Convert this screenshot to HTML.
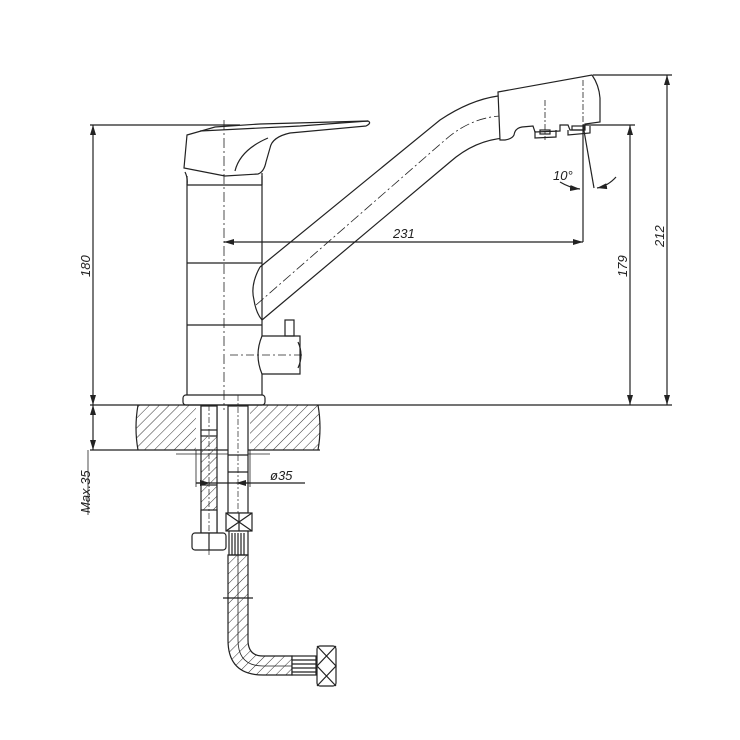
<!DOCTYPE html>
<html><head><meta charset="utf-8"><style>
html,body{margin:0;padding:0;background:#fff;}
svg{display:block}
text{font-family:"Liberation Sans",sans-serif;font-style:italic;font-size:13px;fill:#222}
</style></head><body>
<svg width="740" height="740" viewBox="0 0 740 740" xmlns="http://www.w3.org/2000/svg">
<defs>
<pattern id="h" width="7" height="7" patternUnits="userSpaceOnUse" patternTransform="rotate(45)">
<line x1="0" y1="0" x2="0" y2="7" stroke="#333" stroke-width="1"/>
</pattern>
<marker id="a" markerWidth="10" markerHeight="6" refX="10" refY="3" orient="auto-start-reverse" markerUnits="userSpaceOnUse">
<path d="M0,0 L10,3 L0,6 z" fill="#222"/></marker>
</defs>
<g fill="none" stroke="#222" stroke-width="1.2">
<!-- counter -->
<path d="M138,405 L318,405 Q322,428 318,450 L138,450 Q134,428 138,405 z" fill="url(#h)" stroke="none"/>
<rect x="196" y="405" width="54" height="46" fill="#fff" stroke="none"/>
<line x1="90" y1="405" x2="672" y2="405"/>
<line x1="90" y1="450" x2="320" y2="450"/>
<path d="M138,405 Q134,428 138,450 M318,405 Q322,428 318,450"/>
<line x1="176" y1="454" x2="270" y2="454" stroke-width="0.8"/>
<!-- left dims -->
<line x1="93" y1="125" x2="93" y2="405" marker-start="url(#a)" marker-end="url(#a)"/>
<line x1="90" y1="125" x2="240" y2="125"/>
<line x1="93" y1="405" x2="93" y2="450" marker-start="url(#a)" marker-end="url(#a)"/>
<!-- body -->
<path d="M187,176 L187,395 M262,176 L262,395"/>
<path d="M187,185 L262,185 M187,263 L262,263 M187,325 L262,325"/>
<path d="M185,172 Q188,178 187,185 M262,173 L262,185"/>
<rect x="183" y="395" width="82" height="10" rx="3"/>
<!-- handle -->
<path d="M187,135 L215,127 L260,124 L368,121 Q372,123 366,126 L290,133 Q272,137 270,148 L266,162 Q264,172 258,174 L225,176 L184,168 z" fill="#fff"/>
<path d="M200,131 L300,126 L368,121"/>
<path d="M235,171 Q240,150 268,138" />
<!-- center axis -->
<line x1="224" y1="120" x2="224" y2="410" stroke-width="0.8" stroke-dasharray="10,3,2,3"/>
<!-- spout -->
<path d="M260,267 L440,120 Q470,100 498,96"/>
<path d="M262,320 L450,162 Q475,140 505,138"/>
<path d="M260,267 Q250,285 254,300 Q256,313 262,320"/>
<path d="M256,305 L445,140 Q470,118 500,116 L600,104" stroke-width="0.8" stroke-dasharray="10,3,2,3"/>
<!-- head -->
<path d="M498,92 L592,75 Q599,85 600,98 L600,122 L585,124 L585,130 L570,130 L568,125 L560,125 L560,131 L535,132 L533,126 L522,127 Q515,128 514,135 Q512,139 505,140 L500,140 z" fill="#fff"/>
<path d="M535,131 L535,138 L556,137 L556,130 M568,130 L568,135 L590,133 L590,126"/>
<rect x="540" y="130" width="10" height="4"/><rect x="572" y="126" width="12" height="4"/>
<line x1="545" y1="100" x2="545" y2="140" stroke-width="0.8" stroke-dasharray="6,2,2,2"/>
<line x1="583" y1="80" x2="583" y2="125" stroke-width="0.8" stroke-dasharray="6,2,2,2"/>
<!-- spout dims -->
<line x1="583" y1="125" x2="583" y2="242"/>
<line x1="583" y1="125" x2="594" y2="188"/>
<path d="M560,182 Q570,188 580,189" marker-end="url(#a)"/>
<path d="M616,177 Q608,186 597,188" marker-end="url(#a)"/>
<line x1="224" y1="242" x2="583" y2="242" marker-start="url(#a)" marker-end="url(#a)"/>
<line x1="583" y1="125" x2="635" y2="125"/>
<line x1="630" y1="125" x2="630" y2="405" marker-start="url(#a)" marker-end="url(#a)"/>
<line x1="593" y1="75" x2="672" y2="75"/>
<line x1="667" y1="75" x2="667" y2="405" marker-start="url(#a)" marker-end="url(#a)"/>
<!-- side valve -->
<path d="M262,336 L300,336 L300,374 L262,374 Q254,355 262,336 z" fill="#fff"/>
<rect x="285" y="320" width="9" height="16"/>
<path d="M298,342 Q304,355 298,368"/>
<line x1="230" y1="355" x2="305" y2="355" stroke-width="0.8" stroke-dasharray="8,3,2,3"/>
<!-- left hose -->
<rect x="201" y="406" width="16" height="127" fill="url(#h)"/>
<rect x="201" y="406" width="16" height="30" fill="#fff"/>
<rect x="201" y="510" width="16" height="23" fill="#fff"/>
<line x1="201" y1="430" x2="217" y2="430"/><line x1="201" y1="485" x2="217" y2="485"/>
<rect x="192" y="533" width="34" height="17" rx="3" fill="#fff"/>
<line x1="209" y1="533" x2="209" y2="550"/>
<line x1="209" y1="405" x2="209" y2="555" stroke-width="0.7" stroke-dasharray="6,2,2,2"/>
<!-- right pipe -->
<rect x="228" y="406" width="20" height="107" fill="#fff"/>
<line x1="228" y1="455" x2="248" y2="455"/><line x1="228" y1="472" x2="248" y2="472"/>
<line x1="238" y1="395" x2="238" y2="560" stroke-width="0.7" stroke-dasharray="6,2,2,2"/>
<rect x="226" y="513" width="26" height="18" fill="#fff"/>
<path d="M226,513 L252,531 M252,513 L226,531 M239,513 L239,531"/>
<rect x="229" y="531" width="19" height="24" fill="#fff"/>
<path d="M232,533 V555 M235,533 V555 M238,533 V555 M241,533 V555 M244,533 V555"/>
<!-- flexible hose -->
<path d="M228,555 L228,640 Q228,675 263,675 L292,675 L292,656 L263,656 Q248,656 248,640 L248,555 z" fill="url(#h)"/>
<path d="M238,555 L238,640 Q238,666 263,666 L292,666" stroke-width="0.8"/>
<line x1="223" y1="598" x2="253" y2="598"/>
<rect x="292" y="656" width="24" height="19" fill="#fff"/>
<path d="M292,660 H316 M292,664 H316 M292,668 H316 M292,672 H316"/>
<rect x="317" y="646" width="19" height="40" rx="3" fill="#fff"/>
<path d="M317,646 L336,666 L317,686 M336,646 L317,666 L336,686"/>
<!-- dia 35 -->
<line x1="196" y1="483" x2="305" y2="483"/>
<line x1="196" y1="483" x2="210" y2="483" marker-end="url(#a)"/>
<line x1="250" y1="483" x2="236" y2="483" marker-end="url(#a)"/>
<line x1="196" y1="450" x2="196" y2="487" stroke-width="0.8"/>
<line x1="250" y1="450" x2="250" y2="487" stroke-width="0.8"/>
<line x1="88" y1="450" x2="88" y2="515" stroke-width="0.8"/>
</g>
<text x="0" y="0" transform="translate(90,277) rotate(-90)">180</text>
<text x="0" y="0" transform="translate(90,513) rotate(-90)">Max.35</text>
<text x="0" y="0" transform="translate(627,277) rotate(-90)">179</text>
<text x="0" y="0" transform="translate(664,247) rotate(-90)">212</text>
<text x="393" y="238">231</text>
<text x="553" y="180">10°</text>
<text x="270" y="480">ø35</text>
</svg>
</body></html>
